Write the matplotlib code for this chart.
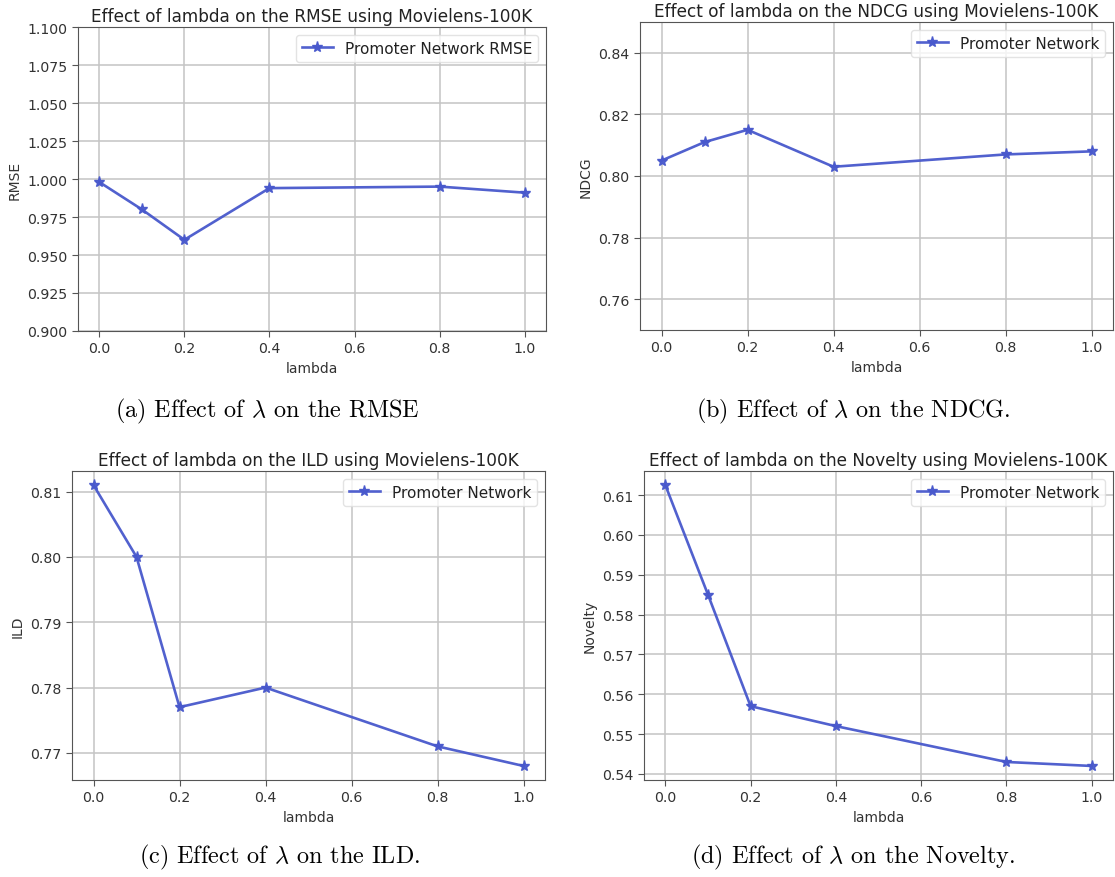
import matplotlib
matplotlib.use('Agg')
import matplotlib.pyplot as plt
from matplotlib.ticker import FormatStrFormatter

# ---- data ----
lam = [0.0, 0.1, 0.2, 0.4, 0.8, 1.0]
rmse = [0.998, 0.980, 0.960, 0.994, 0.995, 0.991]
ndcg = [0.805, 0.811, 0.815, 0.803, 0.807, 0.808]
ild = [0.811, 0.800, 0.777, 0.780, 0.771, 0.768]
novelty = [0.6125, 0.585, 0.557, 0.552, 0.543, 0.542]

xticks = [0.0, 0.2, 0.4, 0.6, 0.8, 1.0]
rmse_ticks = [0.900, 0.925, 0.950, 0.975, 1.000, 1.025, 1.050, 1.075, 1.100]
ndcg_ticks = [0.76, 0.78, 0.80, 0.82, 0.84]
ild_ticks = [0.77, 0.78, 0.79, 0.80, 0.81]
nov_ticks = [0.54, 0.55, 0.56, 0.57, 0.58, 0.59, 0.60, 0.61]

titles = ["Effect of lambda on the RMSE using Movielens-100K",
          "Effect of lambda on the NDCG using Movielens-100K",
          "Effect of lambda on the ILD using Movielens-100K",
          "Effect of lambda on the Novelty using Movielens-100K"]
ylabels = ["RMSE", "NDCG", "ILD", "Novelty"]
legends = ["Promoter Network RMSE", "Promoter Network", "Promoter Network", "Promoter Network"]
captions = [r"(a) Effect of $\lambda$ on the RMSE",
            r"(b) Effect of $\lambda$ on the NDCG.",
            r"(c) Effect of $\lambda$ on the ILD.",
            r"(d) Effect of $\lambda$ on the Novelty."]

plt.rcParams['mathtext.fontset'] = 'cm'
plt.rcParams['axes.unicode_minus'] = False

W, H = 1115, 878
fig = plt.figure(figsize=(W / 100, H / 100), dpi=100)

def rect(l, r, t, b):
    return [l / W, 1 - b / H, (r - l) / W, (b - t) / H]

boxes = [rect(78, 546, 28, 332), rect(640, 1113, 23, 331),
         rect(72, 545, 472, 781), rect(644, 1113, 472, 781)]
series = [rmse, ndcg, ild, novelty]
yticks = [rmse_ticks, ndcg_ticks, ild_ticks, nov_ticks]
ylims = [(0.9, 1.1), (0.75, 0.85), None, None]
yfmts = ['%.3f', '%.2f', '%.2f', '%.2f']
cap_pos = [(267, 411), (853, 411), (280, 857), (853, 857)]

color = '#4858cc'

for i in range(4):
    ax = fig.add_axes(boxes[i])
    ax.plot(lam, series[i], marker='*', color=color, lw=1.9, ms=8, alpha=0.95,
            label=legends[i])
    ax.set_xlim(-0.05, 1.05)
    if ylims[i] is not None:
        ax.set_ylim(*ylims[i])
    ax.set_xticks(xticks)
    ax.set_yticks(yticks[i])
    ax.yaxis.set_major_formatter(FormatStrFormatter(yfmts[i]))
    ax.xaxis.set_major_formatter(FormatStrFormatter('%.1f'))
    ax.tick_params(colors='#555555', labelcolor='#333333', length=4, labelsize=10.2)
    ax.grid(True, color='#c4c4c4', lw=1.1)
    ax.set_axisbelow(True)
    for s in ax.spines.values():
        s.set_color('#555555')
    ax.set_title(titles[i], fontsize=12.2, color='#222222', pad=4)
    ax.set_xlabel('lambda', fontsize=10, color='#333333')
    ax.set_ylabel(ylabels[i], fontsize=10, color='#333333')
    leg = ax.legend(loc='upper right', fontsize=11, frameon=True, handlelength=2)
    leg.get_frame().set_edgecolor('#dddddd')
    for t in leg.get_texts():
        t.set_color('#222222')
    fig.text(cap_pos[i][0] / W, 1 - cap_pos[i][1] / H, captions[i],
             family='cmr10', fontsize=17.4, ha='center', va='center')

fig.savefig('out.png', dpi=100)
